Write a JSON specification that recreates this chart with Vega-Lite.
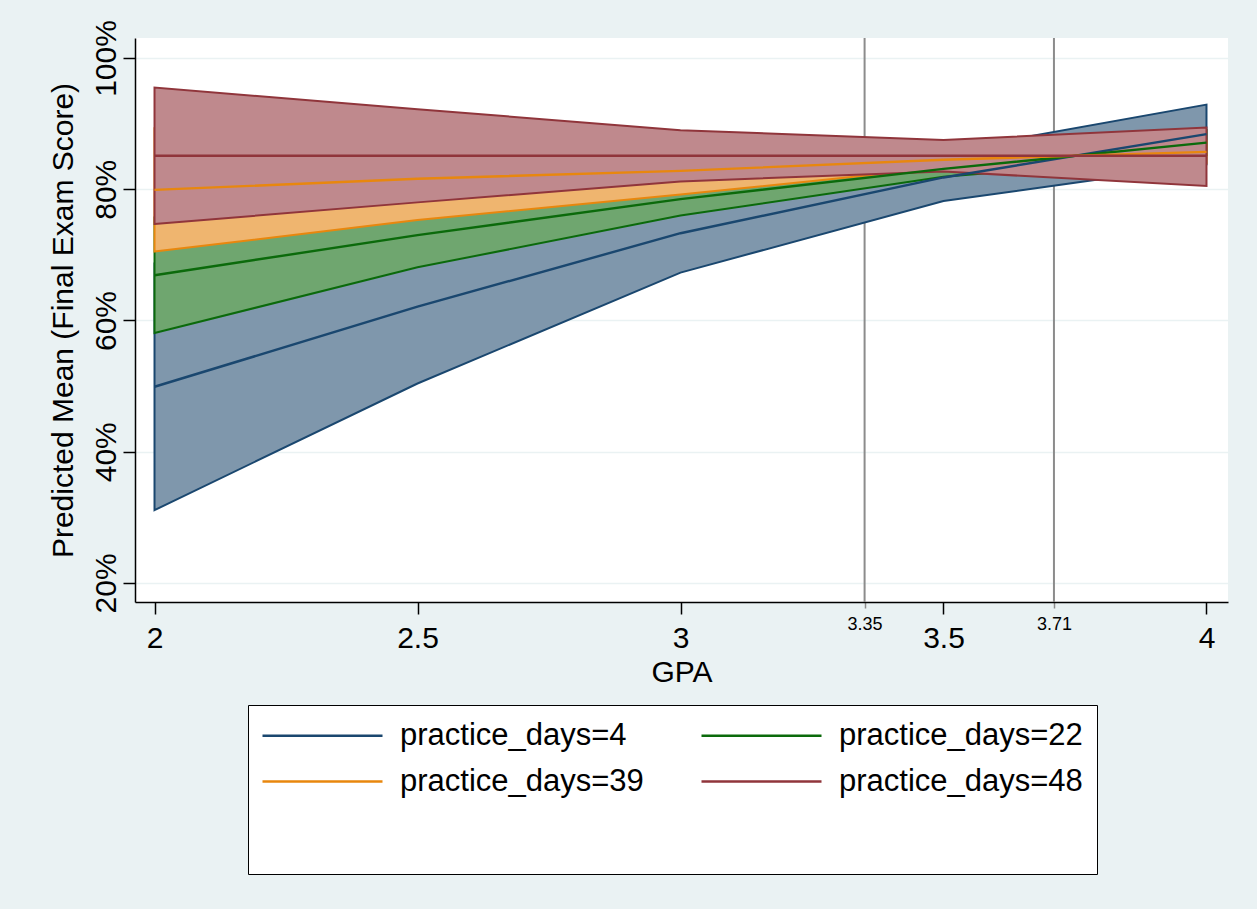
{
  "$schema": "https://vega.github.io/schema/vega-lite/v6.json",
  "width": 1093,
  "height": 564,
  "autosize": {"type": "none"},
  "padding": {"left": 135, "top": 38, "right": 29, "bottom": 307},
  "background": "#EAF2F3",
  "config": {
    "font": "Liberation Sans",
    "view": {"fill": "white", "stroke": null},
    "axis": {
      "labelColor": "black",
      "titleColor": "black",
      "domainColor": "black",
      "tickColor": "black",
      "domainWidth": 1.5,
      "tickWidth": 1.5,
      "labelFontWeight": "normal",
      "titleFontWeight": "normal"
    },
    "legend": {"labelColor": "black", "titleColor": "black"}
  },
  "datasets": {
    "pred": [
      {"gpa": 2, "group": "practice_days=4", "mean": 49.9, "lo": 31.1, "hi": 68.7},
      {"gpa": 2.5, "group": "practice_days=4", "mean": 62.1, "lo": 50.4, "hi": 73.8},
      {"gpa": 3, "group": "practice_days=4", "mean": 73.3, "lo": 67.3, "hi": 79.3},
      {"gpa": 3.5, "group": "practice_days=4", "mean": 81.8, "lo": 78.2, "hi": 85.7},
      {"gpa": 4, "group": "practice_days=4", "mean": 88.4, "lo": 83.8, "hi": 92.9},
      {"gpa": 2, "group": "practice_days=22", "mean": 66.9, "lo": 58.1, "hi": 75.7},
      {"gpa": 2.5, "group": "practice_days=22", "mean": 73.0, "lo": 68.1, "hi": 77.9},
      {"gpa": 3, "group": "practice_days=22", "mean": 78.5, "lo": 76.0, "hi": 81.0},
      {"gpa": 3.5, "group": "practice_days=22", "mean": 83.1, "lo": 81.9, "hi": 84.3},
      {"gpa": 4, "group": "practice_days=22", "mean": 87.1, "lo": 85.2, "hi": 89.0},
      {"gpa": 2, "group": "practice_days=39", "mean": 79.9, "lo": 70.5, "hi": 89.3},
      {"gpa": 2.5, "group": "practice_days=39", "mean": 81.6, "lo": 75.3, "hi": 87.9},
      {"gpa": 3, "group": "practice_days=39", "mean": 82.8, "lo": 79.2, "hi": 86.4},
      {"gpa": 3.5, "group": "practice_days=39", "mean": 84.5, "lo": 83.3, "hi": 85.7},
      {"gpa": 4, "group": "practice_days=39", "mean": 85.7, "lo": 84.0, "hi": 87.4},
      {"gpa": 2, "group": "practice_days=48", "mean": 85.1, "lo": 74.7, "hi": 95.5},
      {"gpa": 2.5, "group": "practice_days=48", "mean": 85.1, "lo": 78.0, "hi": 92.2},
      {"gpa": 3, "group": "practice_days=48", "mean": 85.1, "lo": 81.2, "hi": 89.0},
      {"gpa": 3.5, "group": "practice_days=48", "mean": 85.1, "lo": 82.7, "hi": 87.5},
      {"gpa": 4, "group": "practice_days=48", "mean": 85.1, "lo": 80.5, "hi": 89.4}
    ],
    "marks": [{"gpa": 3.35}, {"gpa": 3.71}]
  },
  "layer": [
    {
      "data": {"name": "marks"},
      "mark": {"type": "rule", "color": "#8C8C8C", "strokeWidth": 2},
      "encoding": {
        "x": {"field": "gpa", "type": "quantitative", "scale": {"domain": [1.9629, 4.0409], "nice": false, "zero": false}}
      }
    },
    {
      "data": {"name": "pred"},
      "mark": {"type": "area", "orient": "vertical", "strokeWidth": 2},
      "encoding": {
        "x": {
          "field": "gpa",
          "type": "quantitative",
          "scale": {"domain": [1.9629, 4.0409], "nice": false, "zero": false},
          "axis": {
            "title": "GPA",
            "values": [2, 2.5, 3, 3.35, 3.5, 3.71, 4],
            "labelExpr": "format(datum.value, '.3~g')",
            "grid": false,
            "labelFontSize": {"condition": {"test": "datum.value == 3.35 || datum.value == 3.71", "value": 18}, "value": 30},
            "labelPadding": {"condition": {"test": "datum.value == 3.35 || datum.value == 3.71", "value": 21}, "value": 33},
            "tickSize": {"condition": {"test": "datum.value == 3.35 || datum.value == 3.71", "value": 6}, "value": 12},
            "tickColor": {"condition": {"test": "datum.value == 3.35 || datum.value == 3.71", "value": "#8C8C8C"}, "value": "black"},
            "labelBaseline": "alphabetic",
            "labelFlush": false,
            "labelOverlap": false,
            "titleFontSize": 30,
            "titleBaseline": "alphabetic",
            "titleY": 79
          }
        },
        "y": {
          "field": "lo",
          "type": "quantitative",
          "scale": {"domain": [17.1, 103.05], "nice": false, "zero": false},
          "axis": {
            "title": "Predicted Mean (Final Exam Score)",
            "values": [20, 40, 60, 80, 100],
            "labelExpr": "datum.value + '%'",
            "labelAngle": -90,
            "labelAlign": "center",
            "labelBaseline": "alphabetic",
            "labelPadding": 8,
            "tickSize": 12,
            "labelFontSize": 30,
            "labelFlush": false,
            "labelOverlap": false,
            "grid": true,
            "gridColor": "#EAF2F3",
            "gridWidth": 1.5,
            "titleFontSize": 30,
            "titleAngle": -90,
            "titleBaseline": "alphabetic",
            "titleAlign": "center",
            "titleX": -63
          }
        },
        "y2": {"field": "hi"},
        "fill": {
          "field": "group",
          "type": "nominal",
          "scale": {
            "domain": ["practice_days=4", "practice_days=22", "practice_days=39", "practice_days=48"],
            "range": ["#7F97AC", "#6FA66F", "#EFB56F", "#BF898D"]
          }
        },
        "stroke": {
          "field": "group",
          "type": "nominal",
          "scale": {
            "domain": ["practice_days=4", "practice_days=22", "practice_days=39", "practice_days=48"],
            "range": ["#1A476F", "#0B6A0B", "#E8870E", "#90353B"]
          }
        }
      }
    },
    {
      "data": {"name": "pred"},
      "mark": {"type": "line", "strokeWidth": 2.4},
      "encoding": {
        "x": {"field": "gpa", "type": "quantitative", "scale": {"domain": [1.9629, 4.0409], "nice": false, "zero": false}},
        "y": {"field": "mean", "type": "quantitative", "scale": {"domain": [17.1, 103.05], "nice": false, "zero": false}},
        "stroke": {
          "field": "group",
          "type": "nominal",
          "scale": {
            "domain": ["practice_days=4", "practice_days=22", "practice_days=39", "practice_days=48"],
            "range": ["#1A476F", "#0B6A0B", "#E8870E", "#90353B"]
          },
          "legend": {
            "orient": "none",
            "legendX": 113,
            "legendY": 667,
            "columns": 2,
            "direction": "horizontal",
            "title": "_",
            "titleColor": "white",
            "titleOrient": "bottom",
            "titleFontSize": 30,
            "titlePadding": 33,
            "symbolType": "M-4,0H4",
            "symbolSize": 900,
            "symbolOffset": 44,
            "symbolStrokeWidth": 2.5,
            "symbolFillColor": "transparent",
            "labelFontSize": 31,
            "labelOffset": 61,
            "labelLimit": 0,
            "columnPadding": 52,
            "rowPadding": 14,
            "padding": 14,
            "strokeColor": "black",
            "fillColor": "white"
          }
        }
      }
    }
  ]
}
